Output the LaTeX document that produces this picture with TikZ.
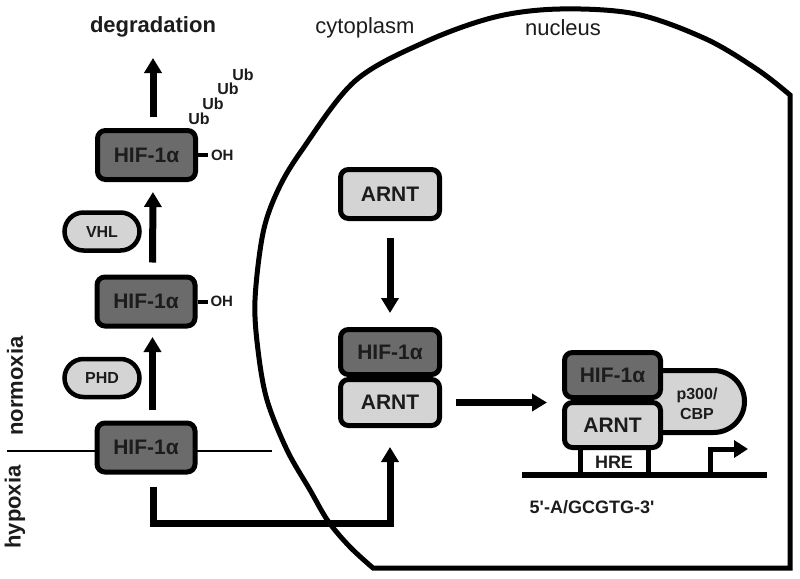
\documentclass[tikz,border=0pt]{standalone}
\usepackage{fontspec}
\setmainfont{Liberation Sans}
\newfontfamily\plainfont{Liberation Sans}
\usetikzlibrary{arrows.meta,calc}
\definecolor{darkbox}{HTML}{6B6B6B}
\definecolor{lightbox}{HTML}{D4D4D4}
\definecolor{ink}{HTML}{1C1C1C}
\begin{document}
\begin{tikzpicture}[x=1pt,y=-1pt,
  box/.style={draw=black, line width=5pt, rounded corners=8pt, minimum width=98pt,
    minimum height=49pt, inner sep=0pt, text=ink,
    font=\fontsize{21}{24}\selectfont\bfseries},
  darkb/.style={box, fill=darkbox},
  lightb/.style={box, fill=lightbox},
  ovalbox/.style={draw=black, line width=4.5pt, fill=lightbox, rounded corners=19pt,
    minimum width=75pt, minimum height=38pt, inner sep=0pt, text=ink,
    font=\fontsize{16}{18}\selectfont\bfseries},
  arr/.style={line width=7pt, -{Triangle[length=15pt,width=17pt]}},
  smalltxt/.style={inner sep=0pt, text=ink, font=\fontsize{15}{16}\selectfont\bfseries},
  ubtxt/.style={inner sep=0pt, text=ink, font=\fontsize{16}{17}\selectfont\bfseries},
  bigtxt/.style={inner sep=0pt, text=ink, font=\fontsize{22}{24}\selectfont\bfseries},
  comptxt/.style={inner sep=0pt, text=ink, font=\fontsize{22}{24}\selectfont},
  stick/.style={line width=5pt}
]
\useasboundingbox (0,0) rectangle (800,578);

% nucleus
\draw[line width=5pt, line join=miter]
  plot[smooth, tension=0.55] coordinates {(790,95) (758,70) (706,39) (636,14) (560,9)
    (495,17) (425,42) (355,81) (302,150) (278,190) (263,233) (255,300) (258,350)
    (267,400) (287,450) (310,490) (328,521) (350,547) (373,568)}
  -- (790,568) -- cycle;
\node[comptxt] (cyto) at (365,28) {cytoplasm};
\node[comptxt] (nuc) at (563,28) {nucleus};

% left column
\draw[line width=2.5pt] (7,451) -- (272,451);
\node[darkb] (b1) at (146.5,155) {HIF-1α};
\node[darkb] (b2) at (146,301.5) {HIF-1α};
\node[darkb] (b3) at (146,447.5) {HIF-1α};
\node[ovalbox] (vhl) at (102,231.5) {VHL};
\node[ovalbox] (phd) at (102,378) {PHD};
\node[bigtxt] (deg) at (153,27) {degradation};

\draw[arr, shorten <=11pt] ($(b1.north)+(6.5,0)$) -- ++(0,-70);
\draw[arr, shorten <=12pt, shorten >=10pt] ($(b2.north)+(6.5,0)$) -- ($(b1.south)+(6.5,0)$);
\draw[arr, shorten <=10.5pt, shorten >=8.5pt] ($(b3.north)+(6.5,0)$) -- ($(b2.south)+(6.5,0)$);

\draw[line width=4pt] (b1.east) -- ++(10,0) node[right, smalltxt, inner sep=1pt] (oh1) {OH};
\draw[line width=4pt] (b2.east) -- ++(10,0) node[right, smalltxt, inner sep=1pt] (oh2) {OH};

\node[ubtxt] (ub1) at (199,119) {Ub};
\node[ubtxt] (ub2) at (213,104) {Ub};
\node[ubtxt] (ub3) at (228,89) {Ub};
\node[ubtxt] (ub4) at (243,75) {Ub};

\node[bigtxt, rotate=90] (norm) at (15,386) {normoxia};
\node[bigtxt, rotate=90] (hyp) at (15,507) {hypoxia};

% middle column
\node[lightb, minimum width=99pt] (a1) at (390,194) {ARNT};
\node[darkb, minimum width=99pt, minimum height=45pt] (c1) at (390,352) {HIF-1α};
\node[lightb, minimum width=99pt, minimum height=46pt] (c2) at (390,402.5) {ARNT};
\draw[arr, shorten <=17pt, shorten >=14pt] (a1.south) -- (c1.north);
\draw[arr, shorten >=19pt] ($(b3.south)+(7,12)$) -- ++(0,37) -| (c2.south);

% right complex
\draw[line width=5pt, fill=lightbox, rounded corners=31pt]
  (630,370.5) -- (744.5,370.5) -- (744.5,432.5) -- (630,432.5);
\node[darkb, minimum width=96pt, minimum height=45pt] (r1) at (612.5,375) {HIF-1α};
\node[lightb, minimum width=96pt, minimum height=45pt] (r2) at (612.5,425) {ARNT};
\node[inner sep=0pt, text=ink, align=center, font=\fontsize{16}{20}\selectfont\bfseries]
  (p300) at (697,404) {p300/\\CBP};
\draw[arr, shorten <=14pt, shorten >=15pt] (c2.east) -- (c2.east -| r2.west);

\draw[stick] ([xshift=18pt]r2.south west) -- ++(0,26);
\draw[stick] ([xshift=-15pt]r2.south east) -- ++(0,26);
\node[inner sep=0pt, text=ink, font=\fontsize{18}{20}\selectfont\bfseries] (hre) at (614,462) {HRE};
\draw[line width=6.5pt] (522,475) -- (767,475);
\coordinate (tss) at (710,477);
\draw[line width=5pt, -{Triangle[length=14pt,width=17pt]}] (tss) |- (748,449);
\node[inner sep=0pt, text=ink, font=\plainfont\fontsize{18}{20}\selectfont\bfseries] (seq) at (592,507) {5'-A/GCGTG-3'};
\end{tikzpicture}
\end{document}
